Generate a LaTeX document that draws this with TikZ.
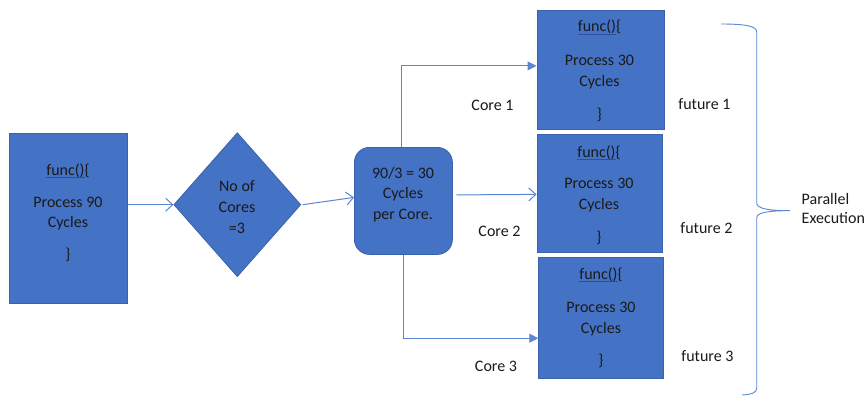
\documentclass[tikz,border=0pt]{standalone}
\usepackage{fontspec}
\setmainfont{Carlito}
\usetikzlibrary{arrows.meta,shapes.geometric}
\definecolor{boxfill}{HTML}{4472C4}
\definecolor{boxedge}{HTML}{3A62AC}
\definecolor{linkc}{HTML}{5B87D2}
\definecolor{ink}{HTML}{1A1A1A}
\definecolor{ulblue}{HTML}{2E4FA0}
% "func(){" with the underline under "func()"
\newcommand\funcopen{{\setbox0\hbox{func()}\rlap{\color{ulblue}\rule[-2.4pt]{\wd0}{0.7pt}}func()\{}}
\tikzset{
  blk/.style={draw=boxedge, fill=boxfill, line width=0.8pt, inner sep=0pt},
  txt/.style={text=ink, font=\fontsize{16}{20}\selectfont, inner sep=0pt, anchor=base},
  link/.style={draw=linkc, line width=1pt},
  openhead/.style={-{Straight Barb[length=7pt,width=13pt,line width=1pt]}},
  solidhead/.style={-{Triangle[length=9pt,width=9pt]}},
}
\begin{document}
\begin{tikzpicture}[x=1pt,y=-1pt]
\useasboundingbox[fill=white] (0,0) rectangle (866,396);

% source function
\node[blk, minimum width=118pt, minimum height=170pt, anchor=north west] (src) at (9,133) {};
\node[txt] (s1) at (68,175) {\funcopen};
\node[txt] (s2) at (68,207) {Process 90};
\node[txt] (s3) at (68,227) {Cycles};
\node[txt] (s4) at (68,259) {\}};

% core count decision
\node[blk, diamond, aspect=0.88, minimum width=127pt, minimum height=144pt] (dia) at (237.3,204.7) {};
\node[txt] (d1) at (237,191) {No of};
\node[txt] (d2) at (237,212) {Cores};
\node[txt] (d3) at (237,233) {=3};

% split step
\node[blk, rounded corners=15pt, minimum width=98pt, minimum height=107pt, anchor=north west] (split) at (354,147) {};
\node[txt] (p1) at (403,178) {90/3 = 30};
\node[txt] (p2) at (403,198.5) {Cycles};
\node[txt] (p3) at (403,219.5) {per Core.};

% worker functions
\node[blk, minimum width=127pt, minimum height=119pt, anchor=north west] (w1) at (536.5,10) {};
\node[txt] (a1) at (599.5,32) {\funcopen};
\node[txt] (a2) at (599.5,65.5) {Process 30};
\node[txt] (a3) at (599.5,86) {Cycles};
\node[txt] (a4) at (599.5,119) {\}};

\node[blk, minimum width=125pt, minimum height=118pt, anchor=north west] (w2) at (536.5,134) {};
\node[txt] (b1) at (599,157) {\funcopen};
\node[txt] (b2) at (599,188.5) {Process 30};
\node[txt] (b3) at (599,209.5) {Cycles};
\node[txt] (b4) at (599,242) {\}};

\node[blk, minimum width=125pt, minimum height=121pt, anchor=north west] (w3) at (538.3,257.3) {};
\node[txt] (c1) at (601,279.5) {\funcopen};
\node[txt] (c2) at (601,312.5) {Process 30};
\node[txt] (c3) at (601,333.5) {Cycles};
\node[txt] (c4) at (601,365) {\}};

% labels
\node[txt] (core1) at (492.5,110) {Core 1};
\node[txt] (core2) at (499.5,236.5) {Core 2};
\node[txt] (core3) at (496,371.5) {Core 3};
\node[txt] (fut1) at (704.5,109.5) {future 1};
\node[txt] (fut2) at (706.5,233.5) {future 2};
\node[txt] (fut3) at (707.5,361.5) {future 3};
\node[txt, anchor=base west] (par1) at (801.5,204) {Parallel};
\node[txt, anchor=base west] (par2) at (801.5,223.5) {Execution};

% connectors
\draw[link, openhead] (src.east |- dia.west) -- (dia.west);
\draw[link, openhead] ([shift={(1.5pt,0pt)}]dia.east) -- ([shift={(0pt,3.5pt)}]split.west);
\draw[link, solidhead] (split.north -| 401.7,0) |- ([yshift=4pt]w1.west);
\draw[link, openhead] ([shift={(3.5pt,6pt)}]split.east) -- ([yshift=-1pt]w2.west);
\draw[link, solidhead] (split.south) |- ([yshift=-20pt]w3.west);

% brace around the three workers
\draw[link, line width=0.9pt]
  (721,24) .. controls (745,24) and (756.7,26) .. (756.7,32)
  -- (756.7,203) .. controls (756.7,208.5) and (768,210.7) .. (790,210.7)
  .. controls (768,210.7) and (756.7,212.5) .. (756.7,218)
  -- (756.7,388) .. controls (756.7,392.5) and (752,394.5) .. (742,395);
\end{tikzpicture}
\end{document}
